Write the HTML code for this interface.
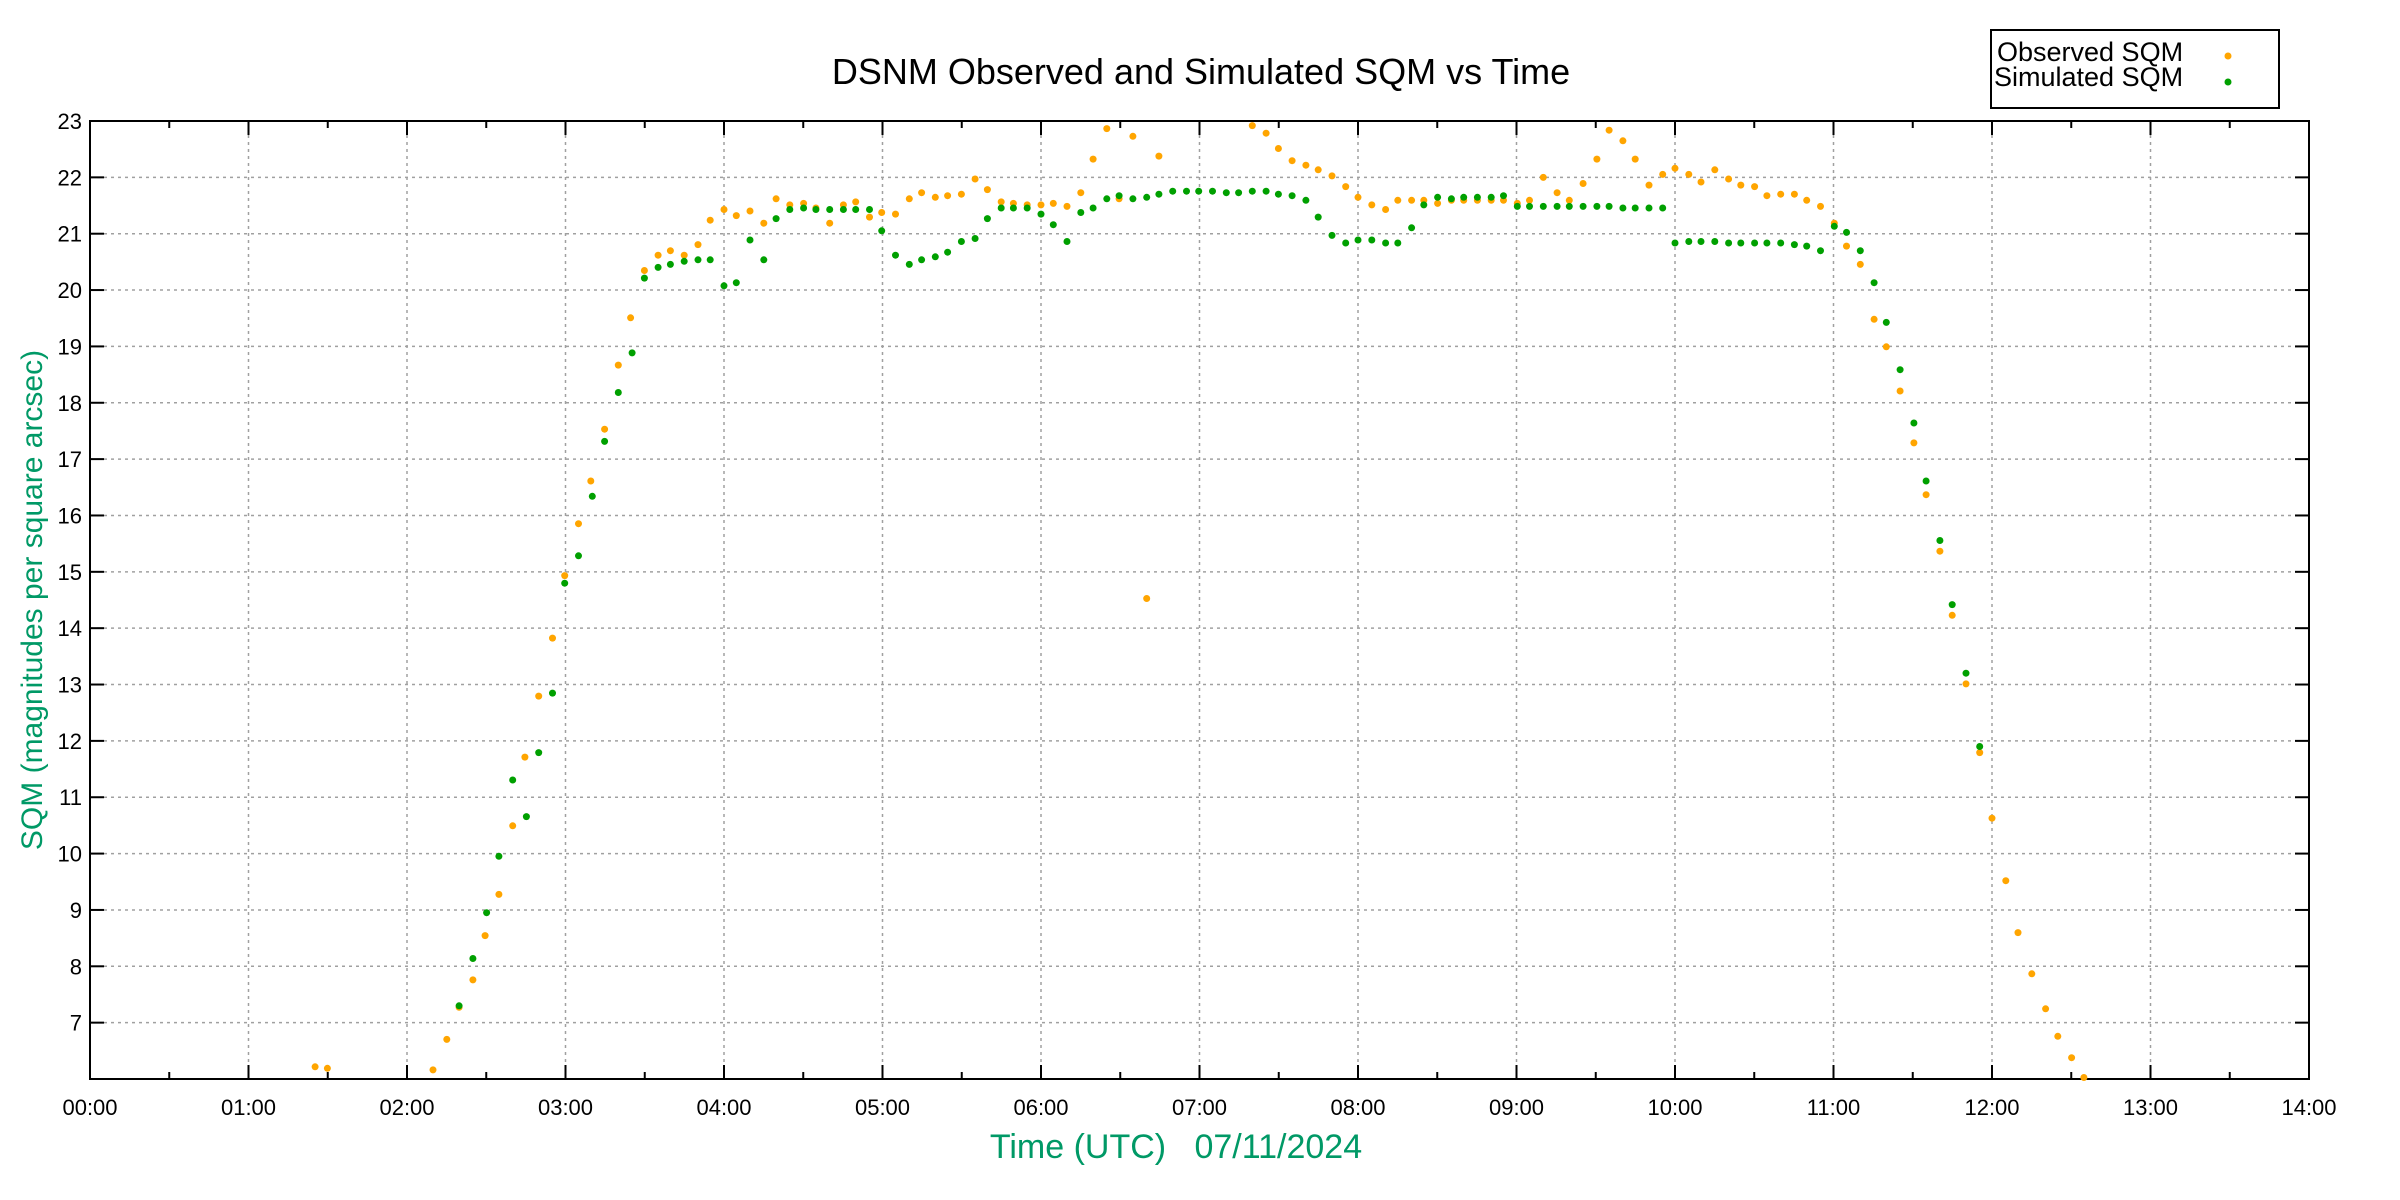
<!DOCTYPE html>
<html><head><meta charset="utf-8"><style>
html,body{margin:0;padding:0;background:#fff;}
svg{display:block;font-family:"Liberation Sans",sans-serif;}
</style></head><body>
<svg id="s" width="2400" height="1200" xmlns="http://www.w3.org/2000/svg">
<rect width="2400" height="1200" fill="#fff"/>
<g id="grid"></g>
<rect x="90" y="121" width="2219" height="958" fill="none" stroke="#000" stroke-width="2"/>
<g id="ticks"></g>
<g id="pts"></g>
<text x="1201" y="84" font-size="36" text-anchor="middle">DSNM Observed and Simulated SQM vs Time</text>
<text x="1176" y="1158" font-size="34" text-anchor="middle" fill="#009966" xml:space="preserve">Time (UTC)   07/11/2024</text>
<text transform="translate(42,600) rotate(-90)" font-size="30" text-anchor="middle" fill="#009966">SQM (magnitudes per square arcsec)</text>
<rect x="1991" y="30" width="288" height="78" fill="#fff" stroke="#000" stroke-width="2"/>
<text x="1997" y="61" font-size="27">Observed SQM</text>
<text x="1994" y="86" font-size="27">Simulated SQM</text>
<circle cx="2228" cy="56" r="3.5" fill="#ffa500"/>
<circle cx="2228" cy="82" r="3.5" fill="#00a000"/>
</svg>
<script>
var NS="http://www.w3.org/2000/svg";
function el(p,t,a,txt){var e=document.createElementNS(NS,t);for(var k in a)e.setAttribute(k,a[k]);if(txt!=null)e.textContent=txt;document.getElementById(p).appendChild(e);}
var L=90,R=2309,T=121,B=1079,hw=(R-L)/14,uh=(B-T)/17;
for(var h=0;h<=14;h++){var x=L+h*hw;
 if(h>0&&h<14)el("grid","line",{x1:x,y1:T,x2:x,y2:B,stroke:"#a0a0a0","stroke-width":1.5,"stroke-dasharray":"3,4"});
 el("ticks","line",{x1:x,y1:B,x2:x,y2:B-14,stroke:"#000","stroke-width":2});
 el("ticks","line",{x1:x,y1:T,x2:x,y2:T+14,stroke:"#000","stroke-width":2});
 if(h<14){var xm=x+hw/2;el("ticks","line",{x1:xm,y1:B,x2:xm,y2:B-7,stroke:"#000","stroke-width":2});el("ticks","line",{x1:xm,y1:T,x2:xm,y2:T+7,stroke:"#000","stroke-width":2});}
 el("ticks","text",{x:x,y:B+36,"font-size":22,"text-anchor":"middle"},(h<10?"0":"")+h+":00");
}
for(var v=7;v<=23;v++){var y=B-(v-6)*uh;
 if(v<23)el("grid","line",{x1:L,y1:y,x2:R,y2:y,stroke:"#a0a0a0","stroke-width":1.5,"stroke-dasharray":"3,4"});
 el("ticks","line",{x1:L,y1:y,x2:L+14,y2:y,stroke:"#000","stroke-width":2});
 el("ticks","line",{x1:R,y1:y,x2:R-14,y2:y,stroke:"#000","stroke-width":2});
 el("ticks","text",{x:L-8,y:y+8,"font-size":22,"text-anchor":"end"},v);
}
var o=[[206,697],[214,698],[283,699],[292,679],[300,658],[309,640],[317,611],[326,584],[335,539],[343,494],[352,454],[361,416],[369,375],[378,341],[386,313],[395,279],[404,237],[412,206],[421,175],[430,165],[438,162],[447,165],[456,158],[464,142],[473,135],[481,139],[490,136],[499,144],[507,128],[516,132],[525,131],[533,134],[542,144],[551,132],[559,130],[568,140],[576,137],[585,138],[594,128],[602,124],[611,127],[619,126],[628,125],[637,115],[645,122],[654,130],[662,131],[671,132],[680,132],[688,131],[697,133],[706,124],[714,102],[723,82],[731,128],[740,87],[749,390],[757,100],[818,80],[827,85],[835,95],[844,103],[853,106],[861,109],[870,113],[879,120],[887,127],[896,132],[905,135],[913,129],[922,129],[930,129],[939,131],[948,129],[956,129],[965,129],[974,129],[982,129],[991,131],[999,129],[1008,114],[1017,124],[1025,129],[1034,118],[1043,102],[1051,83],[1060,90],[1068,102],[1077,119],[1086,112],[1094,108],[1103,112],[1111,117],[1120,109],[1129,115],[1137,119],[1146,120],[1154,126],[1163,125],[1172,125],[1180,129],[1189,133],[1198,144],[1206,159],[1215,171],[1224,207],[1232,225],[1241,254],[1250,288],[1258,322],[1267,359],[1275,401],[1284,446],[1293,491],[1301,534],[1310,575],[1318,609],[1327,636],[1336,659],[1344,677],[1353,691],[1361,704]];
var g=[[300,657],[309,626],[318,596],[326,559],[335,509],[344,533],[352,491],[361,452],[369,380],[378,362],[387,323],[395,287],[404,255],[413,229],[421,180],[430,173],[438,171],[447,169],[456,168],[464,168],[473,185],[481,183],[490,155],[499,168],[507,141],[516,135],[525,134],[533,135],[542,135],[551,135],[559,135],[568,135],[576,149],[585,165],[594,171],[602,168],[611,166],[619,163],[628,156],[637,154],[645,141],[654,134],[662,134],[671,134],[680,138],[688,145],[697,156],[706,137],[714,134],[723,128],[731,126],[740,128],[749,127],[757,125],[766,123],[775,123],[783,123],[792,123],[801,124],[809,124],[818,123],[827,123],[835,125],[844,126],[853,129],[861,140],[870,152],[879,157],[887,155],[896,155],[905,157],[913,157],[922,147],[930,132],[939,127],[948,128],[956,127],[965,127],[974,127],[982,126],[991,133],[999,133],[1008,133],[1017,133],[1025,133],[1034,133],[1043,133],[1051,133],[1060,134],[1068,134],[1077,134],[1086,134],[1094,157],[1103,156],[1111,156],[1120,156],[1129,157],[1137,157],[1146,157],[1154,157],[1163,157],[1172,158],[1180,159],[1189,162],[1198,146],[1206,150],[1215,162],[1224,183],[1232,209],[1241,240],[1250,275],[1258,313],[1267,352],[1275,394],[1284,439],[1293,487]];
function X(x){return 90+(x-59)*1.5314;}function Y(y){return 121+(y-77)*1.5255;}
o.forEach(function(p){el("pts","circle",{cx:X(p[0]).toFixed(1),cy:Y(p[1]).toFixed(1),r:3.5,fill:"#ffa500"});});
g.forEach(function(p){el("pts","circle",{cx:X(p[0]).toFixed(1),cy:Y(p[1]).toFixed(1),r:3.5,fill:"#00a000"});});
</script>
</body></html>
